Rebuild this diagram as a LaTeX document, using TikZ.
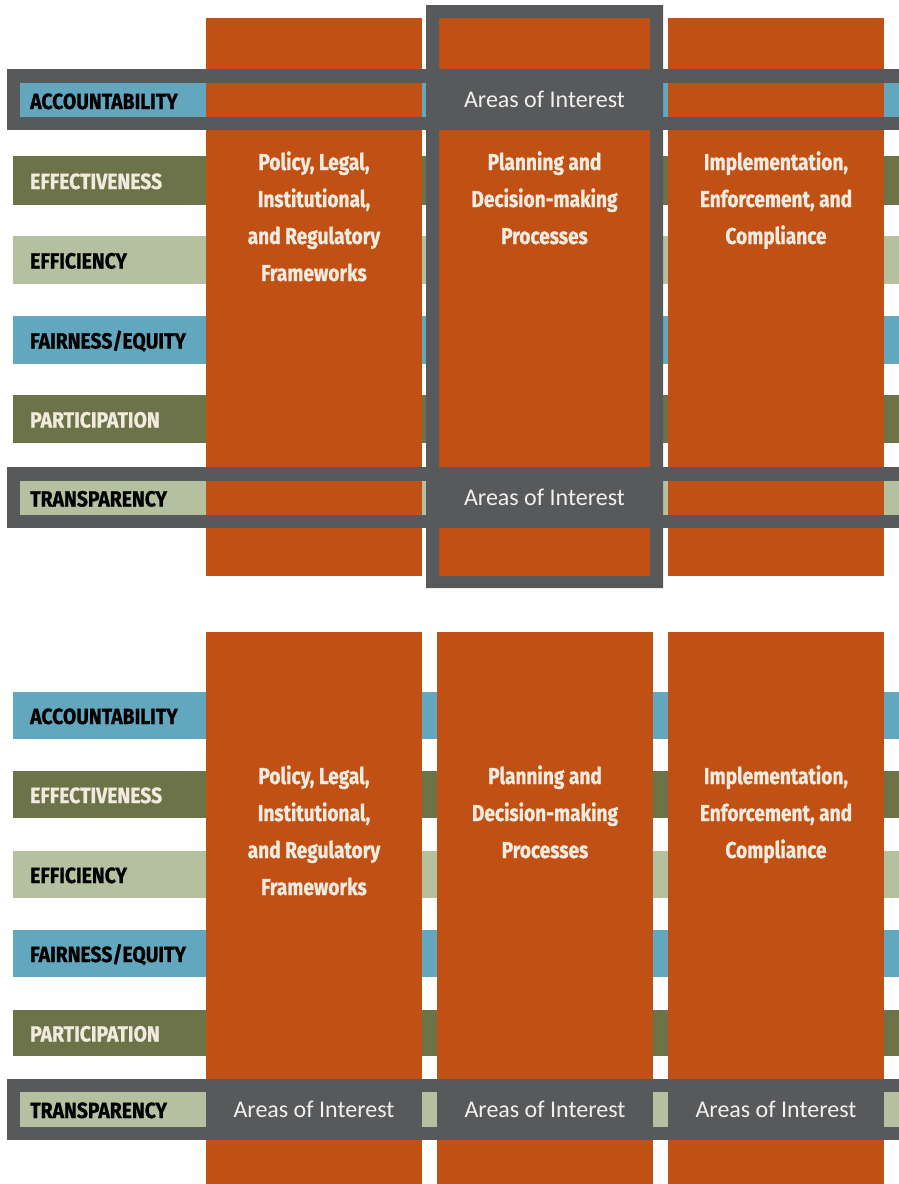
\documentclass[tikz,border=0pt]{standalone}
\usepackage{fontspec}
\newfontfamily\labfont{Fira Sans}[FakeStretch=0.88,BoldFeatures={FakeBold=0.9}]
\newfontfamily\ttlfont{Fira Sans}[FakeStretch=0.83,BoldFeatures={FakeBold=0.9}]
\newfontfamily\aoifont{Carlito}
\definecolor{orng}{RGB}{192,80,20}
\definecolor{gry}{RGB}{88,89,91}
\definecolor{blu}{RGB}{99,167,190}
\definecolor{olv}{RGB}{108,115,72}
\definecolor{sge}{RGB}{180,192,160}
\definecolor{crm}{RGB}{240,235,222}
\definecolor{aoi}{RGB}{240,240,240}
\tikzset{
  lab/.style={anchor=base west,inner sep=0pt,font=\labfont\bfseries\fontsize{22}{22}\selectfont},
  labdark/.style={lab,text=black},
  lablight/.style={lab,text=crm},
  ttl/.style={anchor=base,inner sep=0pt,text=crm,font=\ttlfont\bfseries\fontsize{23}{23}\selectfont},
  aoitxt/.style={anchor=base,inner sep=0pt,text=aoi,font=\aoifont\fontsize{24}{24}\selectfont},
}
\begin{document}
\begin{tikzpicture}[x=1pt,y=-1pt]
\useasboundingbox (0,0) rectangle (899,1184);
\fill[white] (0,0) rectangle (899,1184);
% ================= TOP PANEL =================
% row bars
\fill[blu] (20,83) rectangle (899,117);
\fill[olv] (13,156) rectangle (899,205);
\fill[sge] (13,236) rectangle (899,284);
\fill[blu] (13,316) rectangle (899,364);
\fill[olv] (13,395) rectangle (899,443);
\fill[sge] (20,481) rectangle (899,515);
% columns
\fill[orng] (206,18) rectangle (422,576);
\fill[orng] (439,18) rectangle (650,576);
\fill[orng] (668,18) rectangle (884,576);
% column frame
\fill[gry,even odd rule] (426,5) rectangle (663,588) (439,18) rectangle (650,576);
% row frames
\fill[gry] (7,69) rectangle (899,83);
\fill[gry] (7,117) rectangle (899,130);
\fill[gry] (7,69) rectangle (20,130);
\fill[gry] (426,69) rectangle (663,130);
\fill[gry] (7,467) rectangle (899,481);
\fill[gry] (7,515) rectangle (899,528);
\fill[gry] (7,467) rectangle (20,528);
\fill[gry] (426,467) rectangle (663,528);
% labels
\node[labdark]  (ta) at (30,109) {ACCOUNTABILITY};
\node[lablight] (te) at (30,189) {EFFECTIVENESS};
\node[labdark]  (tf) at (30,268.5) {EFFICIENCY};
\node[labdark]  (tq) at (30,348.5) {FAIRNESS/EQUITY};
\node[lablight] (tp) at (30,427.5) {PARTICIPATION};
\node[labdark]  (tt) at (30,506.5) {TRANSPARENCY};
% titles
\node[ttl] (t1a) at (314,170) {Policy, Legal,};
\node[ttl] (t1b) at (314,207) {Institutional,};
\node[ttl] (t1c) at (314,244) {and Regulatory};
\node[ttl] (t1d) at (314,281) {Frameworks};
\node[ttl] (t2a) at (544.5,170) {Planning and};
\node[ttl] (t2b) at (544.5,207) {Decision-making};
\node[ttl] (t2c) at (544.5,244) {Processes};
\node[ttl] (t3a) at (776,170) {Implementation,};
\node[ttl] (t3b) at (776,207) {Enforcement, and};
\node[ttl] (t3c) at (776,244) {Compliance};
% areas of interest
\node[aoitxt] (ai1) at (544.5,107.5) {Areas of Interest};
\node[aoitxt] (ai2) at (544.5,505.5) {Areas of Interest};
% ================= BOTTOM PANEL =================
\fill[blu] (13,692) rectangle (899,739);
\fill[olv] (13,771) rectangle (899,818);
\fill[sge] (13,851) rectangle (899,898);
\fill[blu] (13,930) rectangle (899,977);
\fill[olv] (13,1010) rectangle (899,1056);
\fill[sge] (20,1092) rectangle (899,1127);
\fill[orng] (206,632) rectangle (422,1184);
\fill[orng] (437,632) rectangle (653,1184);
\fill[orng] (668,632) rectangle (884,1184);
\fill[gry] (7,1079) rectangle (899,1092);
\fill[gry] (7,1127) rectangle (899,1140);
\fill[gry] (7,1079) rectangle (20,1140);
\fill[gry] (206,1079) rectangle (422,1140);
\fill[gry] (437,1079) rectangle (653,1140);
\fill[gry] (668,1079) rectangle (884,1140);
\node[labdark]  (ba) at (30,724) {ACCOUNTABILITY};
\node[lablight] (be) at (30,803) {EFFECTIVENESS};
\node[labdark]  (bf) at (30,883) {EFFICIENCY};
\node[labdark]  (bq) at (30,962) {FAIRNESS/EQUITY};
\node[lablight] (bp) at (30,1041.5) {PARTICIPATION};
\node[labdark]  (bt) at (30,1118) {TRANSPARENCY};
\node[ttl] (u1a) at (314,784) {Policy, Legal,};
\node[ttl] (u1b) at (314,821) {Institutional,};
\node[ttl] (u1c) at (314,858) {and Regulatory};
\node[ttl] (u1d) at (314,895) {Frameworks};
\node[ttl] (u2a) at (545,784) {Planning and};
\node[ttl] (u2b) at (545,821) {Decision-making};
\node[ttl] (u2c) at (545,858) {Processes};
\node[ttl] (u3a) at (776,784) {Implementation,};
\node[ttl] (u3b) at (776,821) {Enforcement, and};
\node[ttl] (u3c) at (776,858) {Compliance};
\node[aoitxt] (bi1) at (314,1117.5) {Areas of Interest};
\node[aoitxt] (bi2) at (545,1117.5) {Areas of Interest};
\node[aoitxt] (bi3) at (776,1117.5) {Areas of Interest};
\end{tikzpicture}
\end{document}
